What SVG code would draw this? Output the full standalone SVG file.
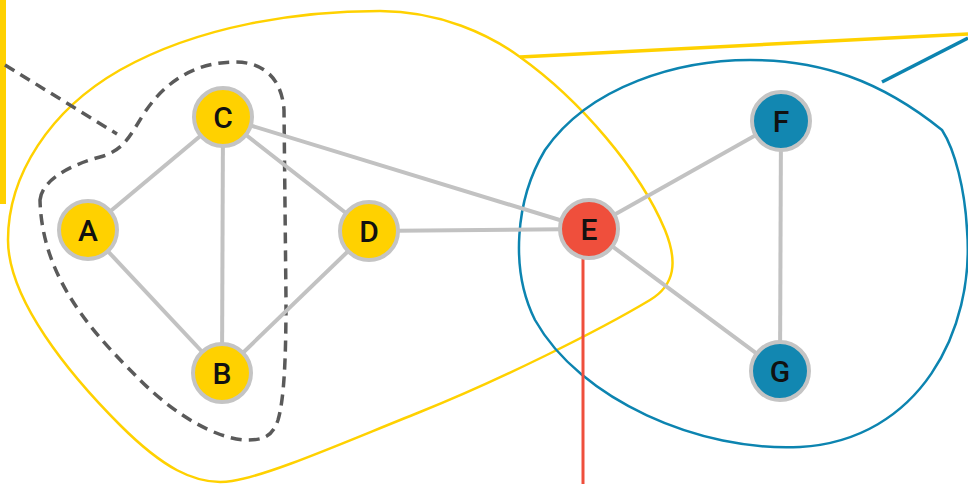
<svg xmlns="http://www.w3.org/2000/svg" width="968" height="484" viewBox="0 0 968 484">
<style>
.edge{stroke:#c2c2c2;stroke-width:4;fill:none}
.node circle{stroke:#c4c4c4;stroke-width:4}
.y circle{fill:#FFD100}
.r circle{fill:#EF4F3C}
.b circle{fill:#1287B1}
.node text{font-family:Roboto,"Liberation Sans",Arial,sans-serif;font-weight:500;font-size:30px;fill:#111;text-anchor:middle}
</style>
<rect x="0" y="0" width="6" height="204" fill="#FFD100"/>
<g id="hulls" fill="none">
<path d="M 380 11 C 440 11, 490 35, 520 57 C 580 100, 640 170, 665 230 C 678 262, 675 285, 650 300 C 600 330, 500 380, 420 412 C 340 444, 270 475, 232 481 C 195 487, 160 465, 120 425 C 70 375, 8 300, 8 240 C 8 175, 50 110, 120 70 C 200 25, 300 11, 380 11 Z" stroke="#FFD100" stroke-width="2.5"/>
<line x1="520" y1="57" x2="968" y2="34" stroke="#FFD100" stroke-width="3.5"/>
<path d="M 750 60 C 820 60, 880 80, 942 130 C 955 150, 965 190, 967 230 C 975 330, 920 440, 800 447 C 700 452, 580 400, 535 320 C 510 270, 515 200, 545 150 C 590 85, 680 60, 750 60 Z" stroke="#0C84B0" stroke-width="2.5"/>
<line x1="882" y1="82" x2="968" y2="38" stroke="#0C84B0" stroke-width="3.5"/>
<path d="M 40 200 C 42 180, 70 165, 100 157 C 125 150, 130 135, 145 112 C 165 82, 195 62, 235 62 C 265 62, 282 80, 284 110 L 286 300 C 286 360, 284 400, 278 420 C 272 438, 262 440, 245 440 C 215 438, 175 415, 140 380 C 95 335, 42 280, 40 200 Z" stroke="#5a5a5a" stroke-width="3.5" stroke-dasharray="11 7"/>
<line x1="5" y1="65" x2="117" y2="134" stroke="#5a5a5a" stroke-width="3.5" stroke-dasharray="11 7"/>
</g>
<line x1="583" y1="240" x2="583" y2="484" stroke="#EF4F3C" stroke-width="3"/>
<g id="connectors">
<line class="edge" x1="88" y1="230" x2="223" y2="117"/>
<line class="edge" x1="88" y1="230" x2="222" y2="373"/>
<line class="edge" x1="223" y1="117" x2="222" y2="373"/>
<line class="edge" x1="223" y1="117" x2="369" y2="231"/>
<line class="edge" x1="223" y1="117" x2="589" y2="229"/>
<line class="edge" x1="369" y1="231" x2="589" y2="229"/>
<line class="edge" x1="369" y1="231" x2="222" y2="373"/>
<line class="edge" x1="589" y1="229" x2="781" y2="121"/>
<line class="edge" x1="589" y1="229" x2="780" y2="371"/>
<line class="edge" x1="781" y1="121" x2="780" y2="371"/>
</g>
<g id="node-A" class="node y"><circle cx="88" cy="230" r="29"/><text x="88" y="241">A</text></g>
<g id="node-B" class="node y"><circle cx="222" cy="373" r="29"/><text x="222" y="384">B</text></g>
<g id="node-C" class="node y"><circle cx="223" cy="117" r="29"/><text x="223" y="128">C</text></g>
<g id="node-D" class="node y"><circle cx="369" cy="231" r="29"/><text x="369" y="242">D</text></g>
<g id="node-E" class="node r"><circle cx="589" cy="229" r="29"/><text x="589" y="240">E</text></g>
<g id="node-F" class="node b"><circle cx="781" cy="121" r="29"/><text x="781" y="132">F</text></g>
<g id="node-G" class="node b"><circle cx="780" cy="371" r="29"/><text x="780" y="382">G</text></g>
</svg>
